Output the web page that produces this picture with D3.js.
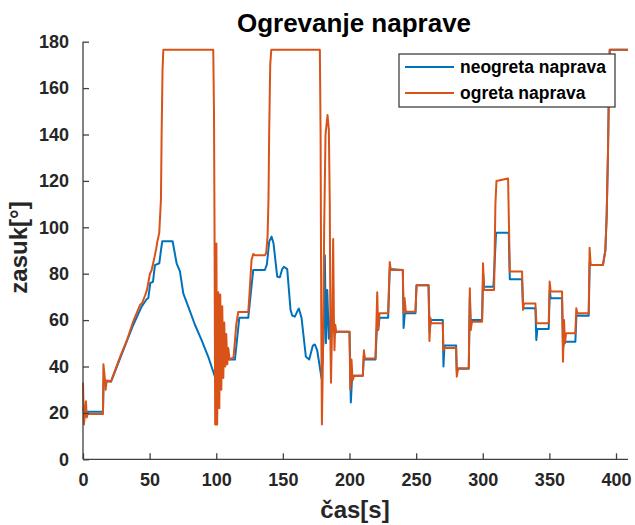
<!DOCTYPE html>
<html>
<head>
<meta charset="utf-8">
<script src="https://cdn.jsdelivr.net/npm/d3@7"></script>
<style>
  html, body { margin: 0; padding: 0; background: #fff; }
  svg { display: block; font-family: "Liberation Sans", Arial, sans-serif; }
</style>
</head>
<body>
<svg id="chart" width="635" height="525"></svg>
<script>
// ---- data ----
const title = "Ogrevanje naprave";
const xLabel = "čas[s]";
const yLabel = "zasuk[°]";
const seriesNames = ["neogreta naprava", "ogreta naprava"];
const xTicks = [0, 50, 100, 150, 200, 250, 300, 350, 400];
const yTicks = [0, 20, 40, 60, 80, 100, 120, 140, 160, 180];

// neogreta naprava (blue)
const tBlue = [0, 0.8, 15, 15.5, 21, 22.75, 30.25, 37.75, 44, 46, 47.75, 49, 50.5, 52.5, 54, 57.25, 58.5, 59.5, 67.25, 68.5, 70.25, 72.75, 75.25, 79, 84, 89, 94, 99,
  99.6, 100.5, 101.5, 103, 105, 107, 110, 114, 117.3, 124, 127.75, 136.5, 138, 139.75, 141.5, 143, 145.75, 147.75, 149.5, 150.75, 153.25, 155.75, 157, 159, 161, 162, 164, 167.25, 169.75, 172.5, 174, 175.75, 179,
  180.5, 181.5, 182.3, 183.3, 184.5, 186, 187.5, 189, 190, 200, 201, 202, 210, 210.8, 211.5, 219.5, 220.5, 221.5, 222.5, 229, 230.2, 240, 240.6, 241.5, 249.5, 250.3, 259.3, 260.2, 261, 270, 270.5, 271.3, 280, 280.5, 281.5, 289.5,
  290.3, 291, 291.8, 299.5, 300.3, 301, 308, 310, 319.5, 320.3, 329.5, 330.3, 339.5, 340.2, 341, 349.5, 350.3, 351, 359.5, 360.3, 361, 369.5, 370.3, 379.5, 380.3, 381, 390.2, 392, 393, 394, 394.7, 395.3, 409];
const vBlue = [22, 20.5, 20.5, 33.5, 33.5, 36, 47, 58, 65.8, 67.5, 69, 69.5, 76, 76.5, 83.7, 84.5, 90, 94, 94, 90, 84.5, 81, 71.5, 65.8, 58, 51.4, 44.2, 35.6,
  38, 45, 40, 46, 42, 45, 43, 43, 61, 61, 81.6, 81.6, 84, 93.8, 96, 93, 78.7, 78.5, 82, 83, 82, 64.4, 62, 61.5, 64, 65, 61, 44.2, 43, 49, 49.5, 47, 35,
  52, 88, 50, 73, 52, 63, 60, 54, 55, 55, 24.5, 36, 36, 45, 43, 43, 56, 55.7, 61, 61, 82, 81.6, 56.6, 63, 63, 75, 75, 55, 60, 60, 40, 49, 49, 38, 39, 39,
  70, 57, 60, 60, 80, 74.4, 74.4, 97.7, 97.7, 77.6, 77.6, 65.1, 65.1, 51.4, 56.2, 56.2, 73, 69.4, 69.4, 48, 50.7, 50.7, 62, 61.9, 85, 83.7, 83.7, 90, 105, 133, 160, 176.5, 176.5];

// ogreta naprava (orange)
const tOrange = [0, 0.7, 1.5, 2.2, 2.8, 3.5, 15, 15.3, 16.2, 17, 17.8, 21, 22.75, 27.75, 32.75, 37.7, 42.75, 44.5, 46.5, 48, 50.25, 51.5, 53.25, 55, 55.75, 57.2, 58.5, 59, 59.7, 60.3,
  97.75, 98.3, 98.7, 99.2, 99.6, 100.1, 100.7, 101.5, 102.3, 103, 103.8, 104.5, 105.3, 106, 106.8, 107.5, 108.3, 109, 110, 113, 115, 116.5, 124, 124.8, 126.5, 127.75, 129, 136.5, 137.5, 138.5, 139.2, 139.7, 140.5, 141.3,
  177.75, 178.3, 178.8, 179.3, 180.2, 181, 182, 183.5, 184.5, 185.2, 185.7, 186.1, 187, 187.75, 188.3, 188.7, 189.3, 190, 200, 200.6, 201.5, 202.3, 203.5, 210, 210.8, 211.5, 219.5, 220.8, 221.5, 222.5, 229,
  230.2, 231, 240, 240.6, 241.3, 242.3, 249.5, 250.3, 259.3, 260, 260.7, 261.3, 270, 270.5, 271.3, 280, 280.5, 281.5, 289.5, 290.3, 291, 291.8, 299.5, 300.2, 301, 308.5, 309.5, 310.3, 319, 319.7, 320.3, 329.5,
  330.2, 331, 339.5, 340.3, 349.5, 350.2, 351, 359.5, 360.2, 361, 361.7, 362.5, 369.5, 370.2, 371, 379.5, 380.2, 381, 390.2, 392, 393, 394, 394.7, 395.3, 409];
const vOrange = [33, 15, 20, 25, 18, 19.5, 19.5, 41, 36, 30, 34, 33.5, 36.3, 44, 51, 59.5, 66.5, 67.5, 70.5, 73, 80, 81.5, 86, 91, 93.8, 97.5, 112, 140, 168, 176.5,
  176.5, 150, 100, 15, 15, 93, 15, 72, 22, 71, 30, 66, 35, 59, 40, 54, 41, 48, 43, 44, 58, 63.5, 63.5, 70, 86, 88.5, 88, 88, 89, 96, 112, 140, 170, 176.5,
  176.5, 140, 60, 15, 50, 100, 140, 148.4, 142, 110, 50, 33, 60, 95, 60, 47, 58, 55, 55, 30, 43, 34, 36, 36, 47, 43.5, 43.5, 72, 55.7, 63, 63,
  85, 81.6, 81.6, 63, 69.5, 63.6, 63.6, 75, 75, 51, 61, 58.6, 58.6, 47, 48, 48, 35.6, 39.2, 39.2, 73.7, 55.7, 59.3, 59.3, 84.5, 73, 73, 110, 120, 121, 100, 80.9, 80.9,
  64.4, 67.2, 67.2, 58.6, 58.6, 76.6, 72.3, 72.3, 42.1, 60, 50, 54.3, 54.3, 65.1, 62.9, 62.9, 91.2, 83.7, 83.7, 90, 105, 133, 160, 176.5, 176.5];

const colors = ["#0072BD", "#D95319"];

// ---- layout ----
const svg = d3.select("#chart");
const x = d3.scaleLinear().domain([0, 409]).range([83, 628]);
const y = d3.scaleLinear().domain([0, 180]).range([459.3, 41.7]);
const axisColor = "#404040";
const textColor = "#262626";

// lines
const line = d3.line().x(d => x(d[0])).y(d => y(d[1]));
const blueData = tBlue.map((t, i) => [t, vBlue[i]]);
const orangeData = tOrange.map((t, i) => [t, vOrange[i]]);
[blueData, orangeData].forEach((data, i) => {
  svg.append("path")
    .datum(data)
    .attr("fill", "none")
    .attr("stroke", colors[i])
    .attr("stroke-width", 2)
    .attr("stroke-linejoin", "round")
    .attr("d", line);
});

// axes
const xAxis = d3.axisBottom(x).tickValues(xTicks).tickSizeInner(-6).tickSizeOuter(0).tickPadding(14);
const gx = svg.append("g").attr("transform", `translate(0,${y(0)})`).call(xAxis);
gx.select(".domain").attr("stroke", axisColor).attr("stroke-width", 1.3).attr("d", `M${x(0)},0H${x(409)}`);
gx.selectAll(".tick line").attr("stroke", axisColor).attr("stroke-width", 1.3);
gx.selectAll(".tick text").attr("fill", textColor).attr("font-size", 18).attr("font-weight", "bold")
  .attr("font-family", "Liberation Sans, Arial, sans-serif");

const yAxis = d3.axisLeft(y).tickValues(yTicks).tickSizeInner(-6).tickSizeOuter(0).tickPadding(14);
const gy = svg.append("g").attr("transform", `translate(${x(0)},0)`).call(yAxis);
gy.select(".domain").attr("stroke", axisColor).attr("stroke-width", 1.3).attr("d", `M0,${y(0)}V${y(180)}`);
gy.selectAll(".tick line").attr("stroke", axisColor).attr("stroke-width", 1.3);
gy.selectAll(".tick text").attr("fill", textColor).attr("font-size", 18).attr("font-weight", "bold")
  .attr("font-family", "Liberation Sans, Arial, sans-serif");

// title & labels
svg.append("text").attr("x", 354).attr("y", 32).attr("text-anchor", "middle")
  .attr("font-size", 26).attr("font-weight", "bold").attr("fill", "#000").text(title);
svg.append("text").attr("x", 355).attr("y", 518).attr("text-anchor", "middle")
  .attr("font-size", 24).attr("font-weight", "bold").attr("fill", textColor).text(xLabel);
svg.append("text").attr("transform", "translate(27,247.5) rotate(-90)").attr("text-anchor", "middle")
  .attr("font-size", 24).attr("font-weight", "bold").attr("fill", textColor).text(yLabel);

// legend
const lg = svg.append("g");
lg.append("rect").attr("x", 399).attr("y", 54).attr("width", 216).attr("height", 53)
  .attr("fill", "#fff").attr("stroke", axisColor).attr("stroke-width", 1.3);
seriesNames.forEach((name, i) => {
  const ly = 67 + i * 26;
  lg.append("line").attr("x1", 405).attr("x2", 454).attr("y1", ly).attr("y2", ly)
    .attr("stroke", colors[i]).attr("stroke-width", 2);
  lg.append("text").attr("x", 460).attr("y", ly + 6).attr("font-size", 17.5).attr("font-weight", "bold")
    .attr("fill", "#000").text(name);
});
</script>
</body>
</html>
